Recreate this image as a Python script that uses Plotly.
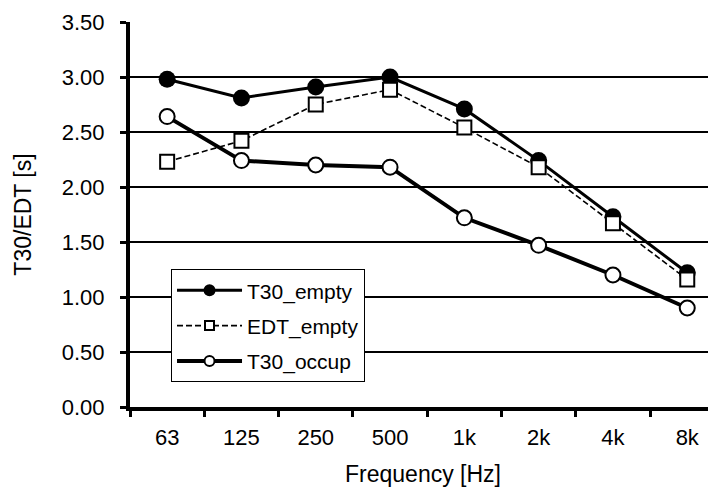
import plotly.graph_objects as go

freq_labels = ["63", "125", "250", "500", "1k", "2k", "4k", "8k"]
t30_empty = [2.98, 2.81, 2.91, 3.00, 2.71, 2.24, 1.73, 1.22]
edt_empty = [2.23, 2.42, 2.75, 2.885, 2.54, 2.18, 1.67, 1.16]
t30_occup = [2.64, 2.24, 2.20, 2.18, 1.72, 1.47, 1.20, 0.90]
y_ticks = [0, 0.5, 1.0, 1.5, 2.0, 2.5, 3.0, 3.5]

FONT = "Liberation Sans, Arial, sans-serif"

series = [
    dict(name="T30_empty", y=t30_empty,
         line=dict(color="black", width=3),
         marker=dict(symbol="circle", size=17, color="black"),
         legend_marker=dict(symbol="circle", size=12, color="black")),
    dict(name="EDT_empty", y=edt_empty,
         line=dict(color="black", width=1.6, dash="6px,3px"),
         marker=dict(symbol="square", size=14, color="white", line=dict(color="black", width=2)),
         legend_marker=dict(symbol="square", size=9, color="white", line=dict(color="black", width=2))),
    dict(name="T30_occup", y=t30_occup,
         line=dict(color="black", width=4),
         marker=dict(symbol="circle", size=15, color="white", line=dict(color="black", width=2)),
         legend_marker=dict(symbol="circle", size=10, color="white", line=dict(color="black", width=2))),
]

fig = go.Figure()
for i, s in enumerate(series):
    fig.add_trace(go.Scatter(
        x=freq_labels, y=s["y"], name=s["name"], mode="lines+markers",
        line=s["line"], marker=s["marker"], showlegend=False,
        legendgroup="g%d" % i))
    # legend entry (smaller legend symbol, same line style)
    fig.add_trace(go.Scatter(
        x=[None], y=[None], name=s["name"], mode="lines+markers",
        line=s["line"], marker=s["legend_marker"], showlegend=True,
        legendgroup="g%d" % i, hoverinfo="skip"))

fig.update_layout(
    width=708, height=480,
    margin=dict(l=122, r=0, t=14, b=81, pad=0),
    paper_bgcolor="white", plot_bgcolor="white",
    font=dict(family=FONT, size=22, color="black"),
    showlegend=True,
    legend=dict(
        x=0.070, y=0.358, xanchor="left", yanchor="top",
        bgcolor="white", bordercolor="black", borderwidth=1,
        font=dict(family=FONT, size=21, color="black"),
        traceorder="grouped", tracegroupgap=5,
        itemwidth=65, itemsizing="trace",
    ),
    xaxis=dict(
        type="category", categoryorder="array", categoryarray=freq_labels,
        range=[-0.5, 7.387],
        tickson="boundaries", ticks="outside", ticklen=6, tickwidth=3, tickcolor="black",
        showline=True, linewidth=4, linecolor="black",
        showgrid=False, zeroline=False,
        ticklabelstandoff=8,
        tickfont=dict(family=FONT, size=22),
        title=dict(text="Frequency [Hz]", font=dict(family=FONT, size=23), standoff=17),
    ),
    yaxis=dict(
        range=[0, 3.5], tickvals=y_ticks, tickformat=".2f",
        ticks="outside", ticklen=6, tickwidth=3, tickcolor="black",
        showline=True, linewidth=4, linecolor="black",
        showgrid=True, gridcolor="black", gridwidth=2,
        zeroline=False,
        ticklabelstandoff=11,
        tickfont=dict(family=FONT, size=22),
        title=dict(text="T30/EDT [s]", font=dict(family=FONT, size=23), standoff=25),
    ),
)

fig.write_html("out.html")
